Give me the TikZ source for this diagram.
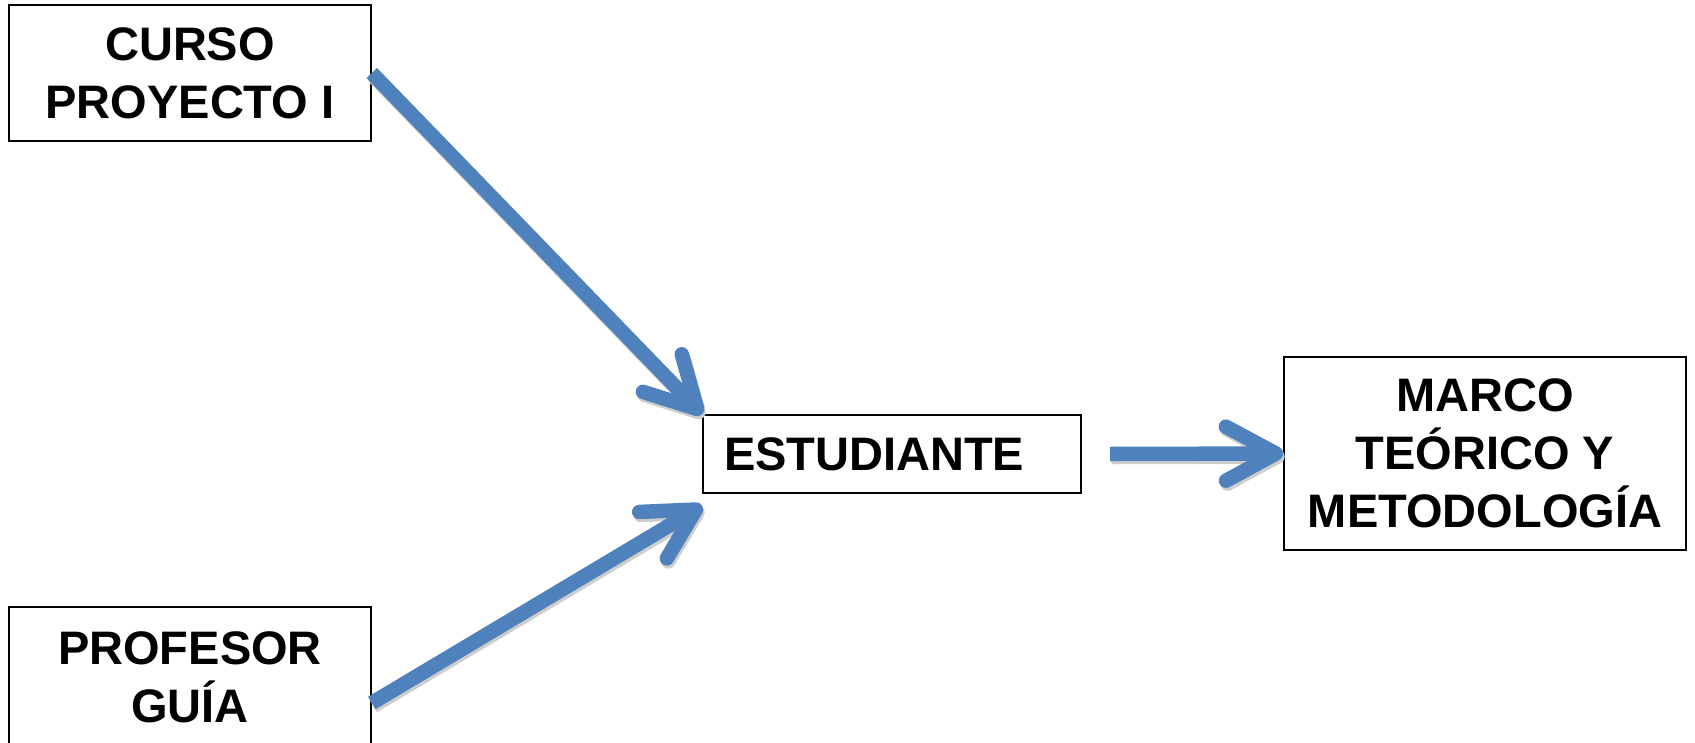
\documentclass[tikz,border=0pt]{standalone}
\usepackage{fontspec}
\setmainfont{Liberation Sans}
\usetikzlibrary{arrows.meta}
\definecolor{arrowblue}{RGB}{79,129,189}
\definecolor{shadowgray}{RGB}{205,205,205}
\begin{document}
\begin{tikzpicture}[x=1pt,y=-1pt,
  box/.style={draw=black,line width=1.6pt,fill=white,inner sep=0pt,align=center,
    font=\fontsize{47}{58}\selectfont\bfseries},
  flowtip/.style={line width=14.5pt,-{Straight Barb[length=50pt,width=54pt,round]}},
  flow/.style={flowtip,draw=arrowblue},
  flowshadow/.style={flowtip,draw=shadowgray}]
\useasboundingbox (0,0) rectangle (1695,742);
\node[box,minimum width=362pt,minimum height=136pt] (curso) at (190,73) {CURSO\\PROYECTO I};
\node[box,minimum width=362pt,minimum height=140pt] (prof) at (190,677) {PROFESOR\\GUÍA};
\node[box,minimum width=378pt,minimum height=78pt,text width=336pt,align=left] (est) at (892,454) {ESTUDIANTE};
\node[box,minimum width=402pt,minimum height=193pt] (marco) at (1485,453.5) {MARCO\\TEÓRICO Y\\METODOLOGÍA};
\coordinate (profout) at (prof.east |- 0,703);
\coordinate (estout) at (1110,454);
\coordinate (estin) at ([yshift=-12pt]est.south west);
\begin{scope}[transform canvas={shift={(1.5pt,-3pt)}}]
\draw[flowshadow] (curso.east) -- (est.north west);
\draw[flowshadow] (profout) -- (estin);
\draw[flowshadow] (estout) -- (marco.west);
\end{scope}
\draw[flow] (curso.east) -- (est.north west);
\draw[flow] (profout) -- (estin);
\draw[flow] (estout) -- (marco.west);
\end{tikzpicture}
\end{document}
